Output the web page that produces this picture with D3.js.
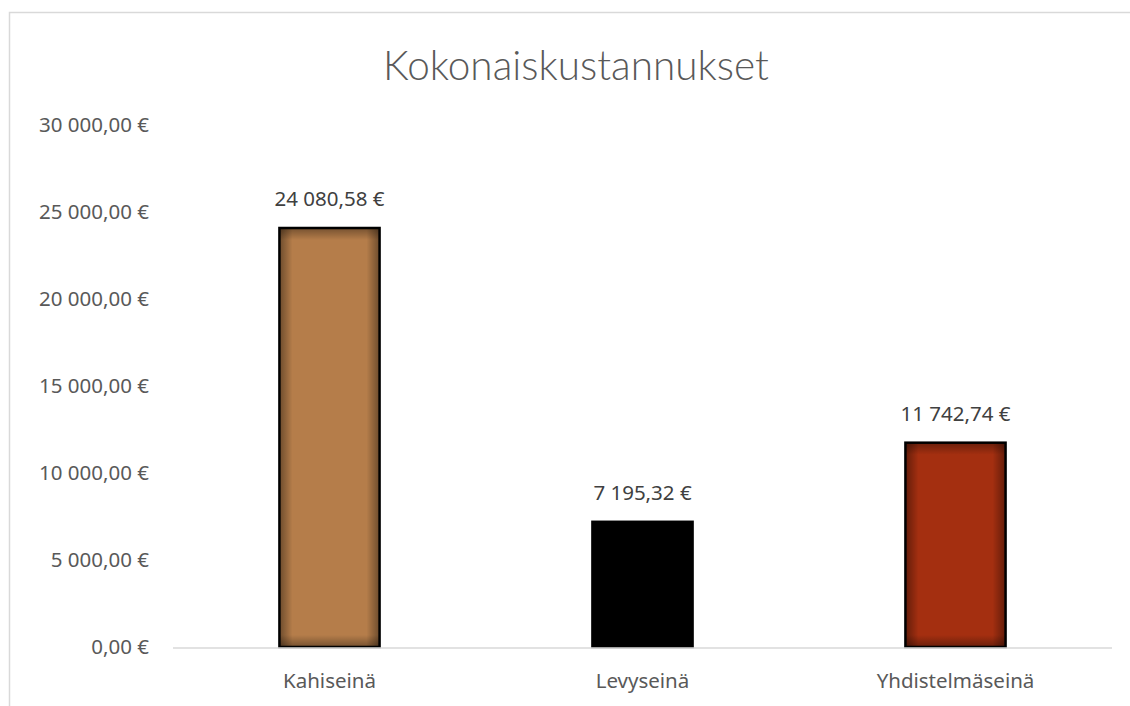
<!DOCTYPE html>
<html>
<head>
<meta charset="utf-8">
<script src="https://cdn.jsdelivr.net/npm/d3@7"></script>
<style>
  body { margin: 0; background: #fff; }
  text { font-family: "Noto Sans", sans-serif; }
</style>
</head>
<body>
<svg id="canvas" width="1130" height="706"></svg>
<script>
// chart data
let categories = ['Kahiseinä', 'Levyseinä', 'Yhdistelmäseinä'];
let costs = [24080.58, 7195.32, 11742.74];
let barColors = ['#b57d4a', '#000000', '#a42f10'];
let yTicks = [0, 5000, 10000, 15000, 20000, 25000, 30000];

let svg = d3.select('#canvas');

// finnish number format, space as thousand separator
let fi = d3.formatLocale({decimal: ',', thousands: '\u00a0', grouping: [3], currency: ['', '\u00a0€']});
let euro = fi.format('$,.2f');

// chart frame
svg.append('path')
    .attr('d', 'M9.5,706 V12.5 H1130')
    .attr('fill', 'none')
    .attr('stroke', '#d9d9d9')
    .attr('stroke-width', 1.5);

let x = d3.scaleBand()
    .domain(categories)
    .range([173, 1112])
    .paddingInner(0.68)
    .paddingOuter(0.34);

let y = d3.scaleLinear()
    .domain([0, 30000])
    .range([647, 125]);

// title
svg.append('text')
    .attr('x', 576)
    .attr('y', 80)
    .attr('text-anchor', 'middle')
    .style('font-family', 'Lato, sans-serif')
    .attr('font-weight', 300)
    .attr('font-size', 40.5)
    .attr('fill', '#595959')
    .text('Kokonaiskustannukset');

// y axis labels
svg.append('g').selectAll('text')
    .data(yTicks)
    .enter()
    .append('text')
    .attr('x', 149)
    .attr('y', d => y(d))
    .attr('dy', '0.35em')
    .attr('text-anchor', 'end')
    .attr('font-size', 20.5)
    .attr('fill', '#595959')
    .text(d => euro(d));

// gradients for the inner shadow look
let defs = svg.append('defs');
let hGrad = defs.append('linearGradient').attr('id', 'shadeH');
hGrad.append('stop').attr('offset', '0%').attr('stop-color', '#000').attr('stop-opacity', 0.4);
hGrad.append('stop').attr('offset', '13%').attr('stop-color', '#000').attr('stop-opacity', 0);
hGrad.append('stop').attr('offset', '87%').attr('stop-color', '#000').attr('stop-opacity', 0);
hGrad.append('stop').attr('offset', '100%').attr('stop-color', '#000').attr('stop-opacity', 0.4);

let bars = svg.append('g').selectAll('g')
    .data(categories)
    .enter()
    .append('g');

bars.append('rect')
    .attr('x', d => x(d))
    .attr('y', (d, i) => y(costs[i]))
    .attr('width', x.bandwidth())
    .attr('height', (d, i) => y(0) - y(costs[i]))
    .attr('fill', (d, i) => barColors[i]);

bars.append('rect')
    .attr('x', d => x(d))
    .attr('y', (d, i) => y(costs[i]))
    .attr('width', x.bandwidth())
    .attr('height', (d, i) => y(0) - y(costs[i]))
    .attr('fill', 'url(#shadeH)');

// top/bottom shade, fixed pixel depth
bars.each(function(d, i) {
    let g = d3.select(this);
    let top = y(costs[i]);
    let id = 'shadeV' + i;
    let h = y(0) - top;
    let f = 12 / h;
    let vGrad = defs.append('linearGradient').attr('id', id).attr('x1', 0).attr('x2', 0).attr('y1', 0).attr('y2', 1);
    vGrad.append('stop').attr('offset', 0).attr('stop-color', '#000').attr('stop-opacity', 0.35);
    vGrad.append('stop').attr('offset', f).attr('stop-color', '#000').attr('stop-opacity', 0);
    vGrad.append('stop').attr('offset', 1 - f).attr('stop-color', '#000').attr('stop-opacity', 0);
    vGrad.append('stop').attr('offset', 1).attr('stop-color', '#000').attr('stop-opacity', 0.35);
    g.append('rect')
        .attr('x', x(d))
        .attr('y', top)
        .attr('width', x.bandwidth())
        .attr('height', h)
        .attr('fill', 'url(#' + id + ')')
        .attr('stroke', '#000')
        .attr('stroke-width', 2.5);
});

// x axis line
svg.append('line')
    .attr('x1', 173)
    .attr('x2', 1112)
    .attr('y1', y(0) + 1)
    .attr('y2', y(0) + 1)
    .attr('stroke', '#d9d9d9')
    .attr('stroke-width', 1.5);

// data labels
bars.append('text')
    .attr('x', d => x(d) + x.bandwidth() / 2)
    .attr('y', (d, i) => y(costs[i]) - 22)
    .attr('text-anchor', 'middle')
    .attr('font-size', 20.5)
    .attr('fill', '#404040')
    .text((d, i) => euro(costs[i]));

// category labels
bars.append('text')
    .attr('x', d => x(d) + x.bandwidth() / 2)
    .attr('y', 688)
    .attr('text-anchor', 'middle')
    .attr('font-size', 20.5)
    .attr('fill', '#595959')
    .text(d => d);
</script>
</body>
</html>
